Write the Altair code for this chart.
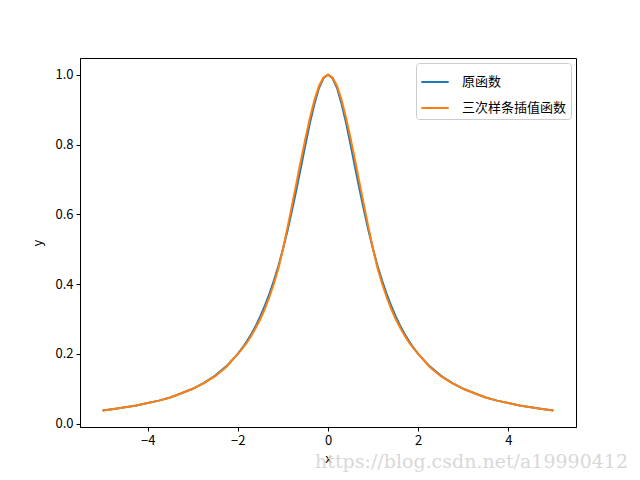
import altair as alt
import pandas as pd

xs = [-5.0, -4.75, -4.5, -4.25, -4.0, -3.75, -3.5, -3.25, -3.0, -2.75, -2.5, -2.25,
      -2.0, -1.9, -1.8, -1.7, -1.6, -1.5, -1.4, -1.3, -1.2, -1.1,
      -1.0, -0.9, -0.8, -0.7, -0.6, -0.5, -0.4, -0.3, -0.2, -0.1,
      0.0,
      0.1, 0.2, 0.3, 0.4, 0.5, 0.6, 0.7, 0.8, 0.9, 1.0,
      1.1, 1.2, 1.3, 1.4, 1.5, 1.6, 1.7, 1.8, 1.9, 2.0,
      2.25, 2.5, 2.75, 3.0, 3.25, 3.5, 3.75, 4.0, 4.25, 4.5, 4.75, 5.0]
orig = [0.038, 0.042, 0.047, 0.052, 0.059, 0.066, 0.075, 0.087, 0.100, 0.117, 0.138, 0.165,
        0.200, 0.217, 0.236, 0.257, 0.281, 0.308, 0.338, 0.372, 0.410, 0.452,
        0.500, 0.552, 0.610, 0.671, 0.735, 0.800, 0.862, 0.917, 0.962, 0.990,
        1.000,
        0.990, 0.962, 0.917, 0.862, 0.800, 0.735, 0.671, 0.610, 0.552, 0.500,
        0.452, 0.410, 0.372, 0.338, 0.308, 0.281, 0.257, 0.236, 0.217, 0.200,
        0.165, 0.138, 0.117, 0.100, 0.087, 0.075, 0.066, 0.059, 0.052, 0.047, 0.042, 0.038]
spline = [0.038, 0.042, 0.047, 0.052, 0.059, 0.066, 0.075, 0.087, 0.100, 0.116, 0.136, 0.163,
          0.200, 0.215, 0.232, 0.252, 0.275, 0.300, 0.329, 0.363, 0.401, 0.445,
          0.500, 0.561, 0.625, 0.690, 0.755, 0.818, 0.877, 0.928, 0.968, 0.992,
          1.000,
          0.992, 0.968, 0.928, 0.877, 0.818, 0.755, 0.690, 0.625, 0.561, 0.500,
          0.445, 0.401, 0.363, 0.329, 0.300, 0.275, 0.252, 0.232, 0.215, 0.200,
          0.163, 0.136, 0.116, 0.100, 0.087, 0.075, 0.066, 0.059, 0.052, 0.047, 0.042, 0.038]
series_names = ["原函数", "三次样条插值函数"]
series_colors = ["#1f77b4", "#ff7f0e"]
watermark = "https://blog.csdn.net/a19990412"

df1 = pd.DataFrame({"x": xs, "y": orig, "s": series_names[0]})
df2 = pd.DataFrame({"x": xs, "y": spline, "s": series_names[1]})

FONT = "Noto Sans CJK SC"

xenc = alt.X("x:Q", scale=alt.Scale(domain=[-5.5, 5.5], nice=False, zero=False),
             axis=alt.Axis(values=[-4, -2, 0, 2, 4], title="x", grid=False,
                           format="d", titlePadding=5))
yenc = alt.Y("y:Q", scale=alt.Scale(domain=[-0.0096, 1.048], nice=False, zero=False),
             axis=alt.Axis(values=[0, 0.2, 0.4, 0.6, 0.8, 1.0], title="y", grid=False,
                           format=".1f", titlePadding=10))
cenc = alt.Color("s:N", scale=alt.Scale(domain=series_names, range=series_colors),
                 legend=alt.Legend(title=None, orient="top-right", offset=5,
                                   symbolType="stroke", symbolStrokeWidth=2,
                                   symbolSize=750, labelFontSize=13, labelFont=FONT,
                                   strokeColor="#cccccc", fillColor="white",
                                   cornerRadius=3, padding=4, rowPadding=4,
                                   labelOffset=12))

l1 = alt.Chart(df1).mark_line(strokeWidth=2).encode(x=xenc, y=yenc, color=cenc)
l2 = alt.Chart(df2).mark_line(strokeWidth=2).encode(x=xenc, y=yenc, color=cenc)

wm = alt.Chart(pd.DataFrame({"t": [watermark]})).mark_text(
    align="right", baseline="middle", fontSize=19, font="DejaVu Serif",
    color="#d8d8d8").encode(x=alt.value(548), y=alt.value(404), text="t:N")

chart = alt.layer(l1, l2, wm).properties(
    width=496, height=369,
    autosize=alt.AutoSizeParams(type="none"),
    padding={"left": 72, "top": 50, "right": 56, "bottom": 45},
).configure_view(stroke="black", strokeWidth=1).configure_axis(
    domainColor="black", tickColor="black", tickSize=4, labelFontSize=13,
    titleFontSize=13, labelFont=FONT, titleFont=FONT, labelColor="black",
    titleColor="black", titleFontWeight="normal", domain=True, labelPadding=3
).configure_axisY(titleAngle=270)

chart.save("out.html", embed_options={"renderer": "svg", "actions": False})
